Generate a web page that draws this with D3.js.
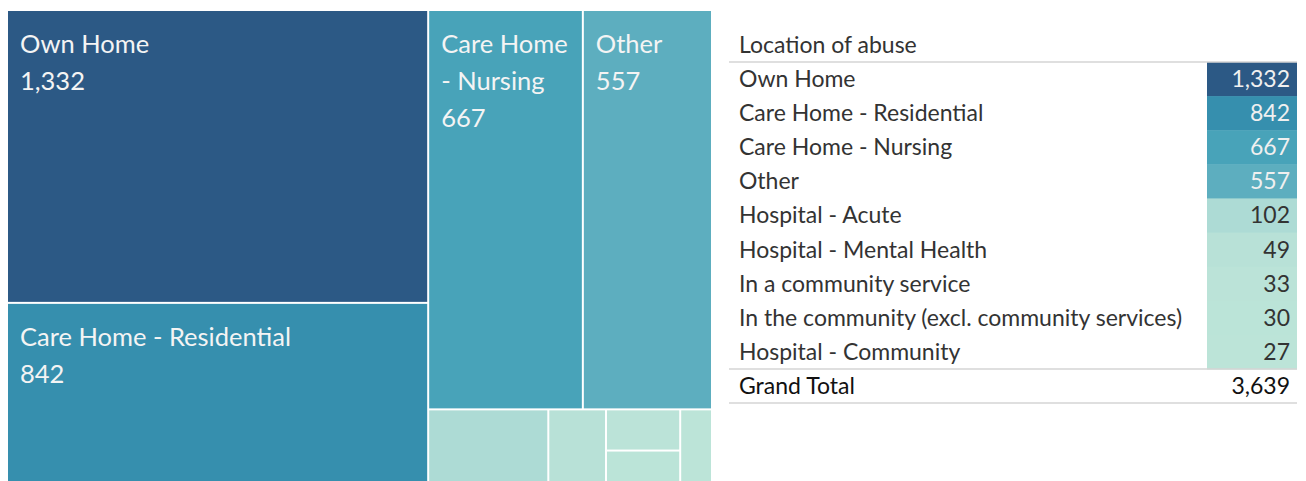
<!DOCTYPE html>
<html>
<head>
<meta charset="utf-8">
<script src="https://cdn.jsdelivr.net/npm/d3@7"></script>
<style>
  body { margin: 0; background: #fff; }
  svg { display: block; font-family: Lato, "Open Sans", sans-serif; }
</style>
</head>
<body>
<svg id="chart" width="1306" height="481"></svg>
<script>
// location of abuse, counts
var categories = [
  "Own Home",
  "Care Home - Residential",
  "Care Home - Nursing",
  "Other",
  "Hospital - Acute",
  "Hospital - Mental Health",
  "In a community service",
  "In the community (excl. community services)",
  "Hospital - Community"
];
var values = [1332, 842, 667, 557, 102, 49, 33, 30, 27];
var grandTotal = 3639;
var tableTitle = "Location of abuse";

// how the treemap tiles are grouped (same order as tableau lays them out)
var tileGroups = [
  ["Own Home", "Care Home - Residential"],
  [["Care Home - Nursing", "Other"],
   ["Hospital - Acute", "Hospital - Mental Health",
    ["In a community service", "In the community (excl. community services)"],
    "Hospital - Community"]]
];

// tableau blue-teal palette
var blueTeal = ["#bce4d8","#aedcd5","#a1d5d2","#95cecf","#89c8cc","#7ec1ca","#72bac6","#66b2c2",
  "#59acbe","#4ba5ba","#419eb6","#3b96b2","#358ead","#3586a7","#347ea1","#32779b","#316f96",
  "#2f6790","#2d608a","#2c5985"];

var fmt = d3.format(",");
var color = d3.scaleSequential(d3.piecewise(d3.interpolateRgb, blueTeal))
  .domain(d3.extent(values));

var valueOf = {};
categories.forEach(function (c, i) { valueOf[c] = values[i]; });

function build(n) {
  if (Array.isArray(n)) return { children: n.map(build) };
  return { name: n, value: valueOf[n] };
}

var svg = d3.select('#chart');

// ---- treemap ----
var tmW = 703, tmH = 476;
var root = d3.hierarchy(build(tileGroups)).sum(function (d) { return d.value || 0; });
d3.treemap().tile(d3.treemapSliceDice).size([tmW, tmH]).paddingInner(2)(root);

var tm = svg.append('g').attr('transform', 'translate(8,11)');
var leaves = tm.selectAll('g.leaf').data(root.leaves()).enter().append('g')
  .attr('class', 'leaf')
  .attr('transform', function (d) { return 'translate(' + d.x0 + ',' + d.y0 + ')'; });

leaves.append('rect')
  .attr('width', function (d) { return d.x1 - d.x0; })
  .attr('height', function (d) { return d.y1 - d.y0; })
  .attr('fill', function (d) { return color(d.data.value); });

var labelSize = 25.5, lineH = 37, pad = 12;
var measure = svg.append('text').style('font-size', labelSize + 'px').attr('visibility', 'hidden');
function textW(s) { measure.text(s); return measure.node().getComputedTextLength(); }

leaves.each(function (d) {
  var w = d.x1 - d.x0 - pad - 4, h = d.y1 - d.y0;
  var words = d.data.name.split(' ');
  var lines = [], cur = '';
  var ok = true;
  words.forEach(function (wd) {
    if (textW(wd) > w) ok = false;
    var t = cur ? cur + ' ' + wd : wd;
    if (textW(t) <= w) cur = t;
    else { lines.push(cur); cur = wd; }
  });
  lines.push(cur);
  lines.push(fmt(d.data.value));
  if (!ok || 42 + (lines.length - 1) * lineH + 10 > h) return;
  var txt = d3.select(this).append('text')
    .attr('fill', '#f4f4f4')
    .style('font-size', labelSize + 'px');
  lines.forEach(function (l, i) {
    txt.append('tspan').attr('x', pad).attr('y', 42 + i * lineH).text(l);
  });
});
measure.remove();

// ---- table ----
var tx0 = 729, tx1 = 1297, cellX = 1207, fs = '23px';
var y = d3.scaleBand().domain(categories).range([62, 369]);
var table = svg.append('g');

table.append('text')
  .attr('x', 739).attr('y', 53)
  .attr('fill', '#333')
  .style('font-size', fs)
  .text(tableTitle);

var rows = table.selectAll('g.row').data(categories).enter().append('g')
  .attr('class', 'row')
  .attr('transform', function (d) { return 'translate(0,' + y(d) + ')'; });

rows.append('rect')
  .attr('x', cellX).attr('width', tx1 - cellX)
  .attr('height', y.bandwidth() + 0.5)
  .attr('fill', function (d, i) { return color(values[i]); });

rows.append('text')
  .attr('x', 739).attr('y', 25)
  .attr('fill', '#333')
  .style('font-size', fs)
  .text(function (d) { return d; });

rows.append('text')
  .attr('x', 1290).attr('y', 25)
  .attr('text-anchor', 'end')
  .attr('fill', function (d, i) { return values[i] > 300 ? '#f0f0f0' : '#333'; })
  .style('font-size', fs)
  .text(function (d, i) { return fmt(values[i]); });

[62, 369, 403].forEach(function (ly) {
  table.append('line')
    .attr('x1', tx0).attr('x2', tx1)
    .attr('y1', ly).attr('y2', ly)
    .attr('stroke', '#d4d4d4')
    .attr('stroke-width', 1.5);
});

table.append('text')
  .attr('x', 739).attr('y', 394)
  .attr('fill', '#111')
  .style('font-size', fs)
  .text('Grand Total');
table.append('text')
  .attr('x', 1290).attr('y', 394)
  .attr('text-anchor', 'end')
  .attr('fill', '#111')
  .style('font-size', fs)
  .text(fmt(grandTotal));
</script>
</body>
</html>
